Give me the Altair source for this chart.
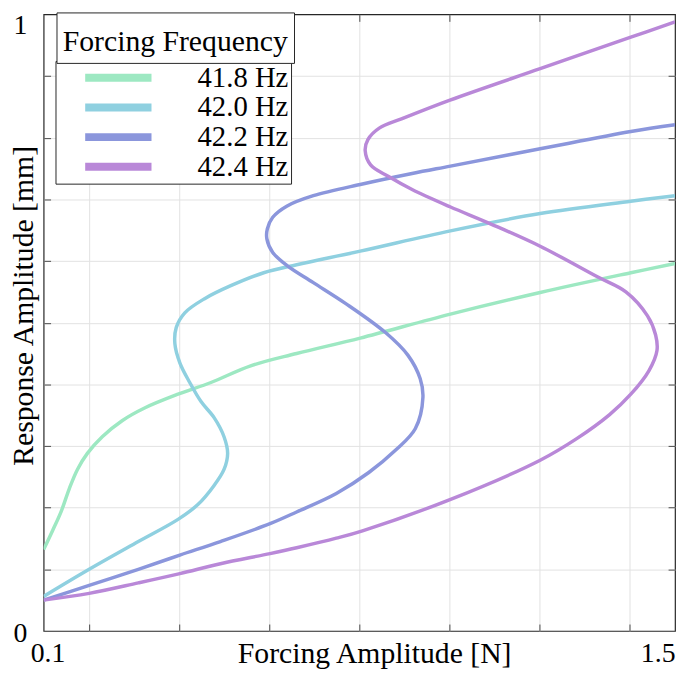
import altair as alt
import pandas as pd

FONT = "Liberation Serif"
BOX = "#262626"

freqs = ["41.8 Hz", "42.0 Hz", "42.2 Hz", "42.4 Hz"]
colors = ["#9de8c2", "#8fd0e0", "#8b96dc", "#b988d8"]

x_418 = [0.100, 0.120, 0.139, 0.157, 0.175, 0.197, 0.230, 0.274, 0.325, 0.398, 0.471, 0.559, 0.661, 0.802, 1.002, 1.201, 1.402, 1.500]
y_418 = [0.132, 0.163, 0.194, 0.231, 0.262, 0.288, 0.315, 0.341, 0.362, 0.384, 0.403, 0.430, 0.450, 0.475, 0.514, 0.549, 0.581, 0.596]

x_420 = [0.100, 0.201, 0.310, 0.398, 0.442, 0.478, 0.500, 0.508, 0.500, 0.478, 0.449, 0.424, 0.402, 0.391, 0.394, 0.413, 0.457, 0.515, 0.588, 0.661, 0.802, 1.002, 1.201, 1.402, 1.500]
y_420 = [0.056, 0.100, 0.145, 0.181, 0.205, 0.236, 0.262, 0.288, 0.315, 0.346, 0.372, 0.403, 0.435, 0.466, 0.492, 0.516, 0.539, 0.560, 0.581, 0.594, 0.616, 0.649, 0.677, 0.697, 0.706]

x_422 = [0.100, 0.201, 0.310, 0.402, 0.492, 0.602, 0.661, 0.749, 0.821, 0.880, 0.924, 0.941, 0.935, 0.908, 0.858, 0.770, 0.698, 0.639, 0.608, 0.595, 0.596, 0.608, 0.639, 0.698, 0.807, 0.917, 1.002, 1.201, 1.402, 1.500]
y_422 = [0.050, 0.074, 0.100, 0.123, 0.145, 0.174, 0.193, 0.223, 0.257, 0.293, 0.328, 0.379, 0.409, 0.447, 0.484, 0.531, 0.565, 0.593, 0.614, 0.636, 0.652, 0.671, 0.689, 0.706, 0.725, 0.742, 0.754, 0.782, 0.810, 0.821]

x_424 = [0.100, 0.201, 0.310, 0.402, 0.492, 0.602, 0.661, 0.749, 0.807, 1.001, 1.201, 1.282, 1.355, 1.402, 1.442, 1.460, 1.457, 1.439, 1.391, 1.329, 1.201, 1.092, 1.001, 0.917, 0.865, 0.825, 0.813, 0.819, 0.845, 0.895, 1.001, 1.201, 1.402, 1.500]
y_424 = [0.050, 0.061, 0.078, 0.093, 0.109, 0.1255, 0.135, 0.1505, 0.1625, 0.213, 0.277, 0.312, 0.351, 0.384, 0.422, 0.455, 0.480, 0.511, 0.550, 0.574, 0.624, 0.660, 0.688, 0.716, 0.737, 0.756, 0.779, 0.797, 0.816, 0.831, 0.861, 0.912, 0.963, 0.988]

x_ticks = [0.2, 0.4, 0.6, 0.8, 1.0, 1.2, 1.4]
y_ticks = [0.1, 0.2, 0.3, 0.4, 0.5, 0.6, 0.7, 0.8, 0.9]
x_label_vals = [0.1, 0.2, 0.4, 0.6, 0.8, 1.0, 1.2, 1.4, 1.5]
y_label_vals = [0.0, 0.1, 0.2, 0.3, 0.4, 0.5, 0.6, 0.7, 0.8, 0.9, 1.0]

rows = []
for f, xs, ys in zip(freqs, [x_418, x_420, x_422, x_424], [y_418, y_420, y_422, y_424]):
    for i, (a, b) in enumerate(zip(xs, ys)):
        rows.append({"freq": f, "x": a, "y": b, "idx": i, "grp": "Forcing Frequency"})
df = pd.DataFrame(rows)

xscale = alt.Scale(domain=[0.1, 1.5], nice=False, zero=False)
yscale = alt.Scale(domain=[0, 1], nice=False, zero=False)

GRID = "#e2e2e2"
TICK = "#4a4a4a"

x_main_axis = alt.Axis(
    orient="bottom", values=x_label_vals, format=".1f",
    labelExpr="datum.value == 0.1 ? '0.1' : (datum.value == 1.5 ? '1.5' : '')",
    labelFlush=False, labelOverlap=False, labelBound=False,
    labelAlign={"condition": {"test": "datum.value == 1.5", "value": "right"}, "value": "center"},
    labelOffset={"condition": {"test": "datum.value == 0.1", "value": 4}, "value": 0},
    labelBaseline="alphabetic", labelPadding=31, labelFont=FONT, labelFontSize=28, labelColor="black",
    ticks=False, tickSize=0, domain=False,
    grid=True, gridColor=GRID, gridWidth=1,
    gridOpacity={"condition": {"test": "datum.value == 0.1 || datum.value == 1.5", "value": 0}, "value": 1},
    title="Forcing Amplitude [N]", titleFont=FONT, titleFontSize=30, titleFontWeight="normal",
    titleColor="black", titleX=334, titleY=32, titleAlign="center", titleBaseline="alphabetic",
)
y_main_axis = alt.Axis(
    orient="left", values=y_label_vals,
    labelExpr="datum.value == 0 ? '0' : (datum.value == 1 ? '1' : '')",
    labelFlush=False, labelOverlap=False, labelBound=False,
    labelBaseline="alphabetic",
    labelOffset={"condition": {"test": "datum.value == 1", "value": 19}, "value": 11},
    labelPadding=17, labelFont=FONT, labelFontSize=28, labelColor="black",
    ticks=False, tickSize=0, domain=False,
    grid=True, gridColor=GRID, gridWidth=1,
    gridOpacity={"condition": {"test": "datum.value == 0 || datum.value == 1", "value": 0}, "value": 1},
    title="Response Amplitude [mm]", titleFont=FONT, titleFontSize=30, titleFontWeight="normal",
    titleColor="black", titleX=-11, titleY=294, titleAngle=270, titleAlign="center",
    titleBaseline="alphabetic",
)

# entries box (lower part of the legend frame)
main_legend = alt.Legend(
    title=None, orient="none", legendX=12, legendY=47, direction="vertical",
    padding=2, strokeColor=BOX, fillColor="white", cornerRadius=0,
    labelFont=FONT, labelFontSize=29, labelColor="black", labelOffset=59, labelLimit=400,
    symbolType="M-2,0H2", symbolSize=1122.25, symbolStrokeWidth=8, symbolOffset=40.5,
    clipHeight=30, rowPadding=0, zindex=1,
)

# title box (upper part of the legend frame)
title_legend = alt.Legend(
    title="Forcing Frequency", orient="none", legendX=13, legendY=-2, padding=6,
    strokeColor=BOX, fillColor="white", cornerRadius=0,
    titleFont=FONT, titleFontSize=30, titleFontWeight="normal", titleColor="black", titleLimit=500,
    titleOrient="bottom", titleAnchor="middle", titlePadding=8,
    labelExpr="''", labelFontSize=1, labelOffset=0,
    symbolSize=1, symbolStrokeWidth=0, symbolOpacity=0, symbolOffset=221,
    clipHeight=1, zindex=2,
)

lines = alt.Chart(df).mark_line(strokeWidth=3.5, interpolate="catmull-rom", clip=True).encode(
    x=alt.X("x:Q", scale=xscale, axis=x_main_axis),
    y=alt.Y("y:Q", scale=yscale, axis=y_main_axis),
    color=alt.Color("freq:N", scale=alt.Scale(domain=freqs, range=colors), legend=main_legend),
    order=alt.Order("idx:Q"),
)

def tick_axis(orient, vals):
    return alt.Axis(orient=orient, values=vals, labels=False, domain=False, grid=False,
                    ticks=True, tickSize=7, tickColor=TICK, tickWidth=1, offset=-7, title=None)

ticks_tr = alt.Chart(df).mark_point(opacity=0).encode(
    x=alt.X("x:Q", scale=xscale, axis=tick_axis("top", x_ticks)),
    y=alt.Y("y:Q", scale=yscale, axis=tick_axis("right", y_ticks)),
    shape=alt.Shape("grp:N", legend=title_legend),
)
ticks_bl = alt.Chart(df).mark_point(opacity=0).encode(
    x=alt.X("x:Q", scale=xscale, axis=tick_axis("bottom", x_ticks)),
    y=alt.Y("y:Q", scale=yscale, axis=tick_axis("left", y_ticks)),
)

chart = alt.layer(lines, ticks_tr, ticks_bl).resolve_scale(
    x="independent", y="independent"
).properties(
    width=638, height=623,
    padding={"left": 36, "top": 3, "right": 2, "bottom": 40},
    autosize=alt.AutoSizeParams(type="none"),
    background="white",
).configure_view(stroke=BOX, strokeWidth=1.2)

chart.save("out.html", embed_options={"renderer": "svg", "actions": False})
